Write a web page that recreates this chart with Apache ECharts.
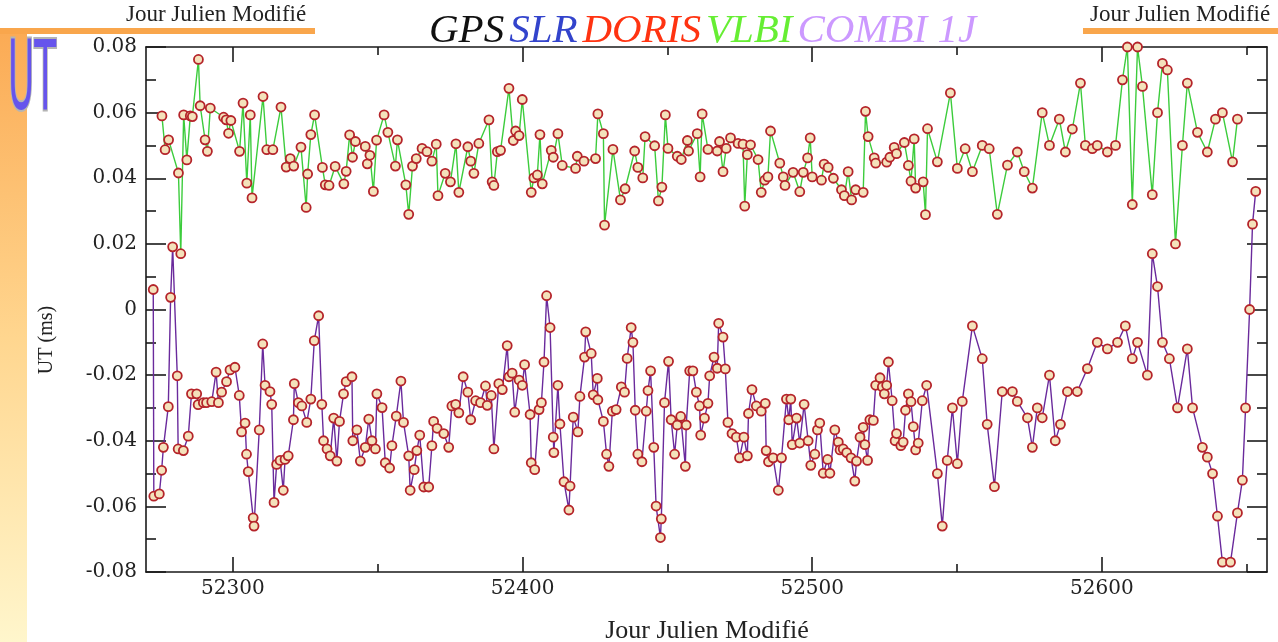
<!DOCTYPE html>
<html><head><meta charset="utf-8">
<script src="https://cdn.jsdelivr.net/npm/echarts@6/dist/echarts.min.js"></script>
<style>html,body{margin:0;padding:0;background:#fff}#c{width:1278px;height:642px}</style>
</head><body><div id="c"></div>
<script>
const xTickLabels = [52300, 52400, 52500, 52600];
const xMinorTicks = [52350, 52450, 52550, 52650];

const greenDays = [52275.5,52276.6,52277.8,52281.2,52282.0,52283.0,52284.1,52285.3,52286.0,52288.1,52288.7,52290.4,52291.2,52292.2,52296.8,52297.7,52298.5,52299.3,52302.3,52303.5,52304.8,52306.0,52306.6,52310.4,52311.7,52313.8,52316.6,52318.4,52319.8,52321.0,52323.5,52325.3,52325.8,52326.9,52328.2,52330.9,52331.9,52333.2,52335.3,52338.3,52339.1,52340.3,52341.3,52342.3,52345.7,52346.4,52347.3,52348.5,52349.6,52352.2,52353.5,52356.1,52356.8,52359.7,52360.7,52362.0,52363.3,52365.3,52367.0,52368.7,52370.2,52370.8,52373.3,52375.1,52377.0,52378.0,52381.1,52382.1,52383.2,52384.9,52388.4,52389.5,52390.1,52391.3,52392.4,52395.3,52396.8,52397.6,52398.8,52399.9,52403.0,52403.9,52405.1,52406.0,52406.8,52409.9,52410.6,52412.2,52413.7,52418.3,52418.9,52421.2,52425.2,52426.0,52427.9,52428.3,52431.2,52433.8,52435.4,52438.7,52439.8,52441.5,52442.3,52445.6,52446.9,52448.1,52449.3,52450.2,52453.4,52454.8,52456.9,52457.3,52460.3,52461.3,52462.0,52464.0,52467.2,52468.0,52469.2,52470.3,52471.8,52474.4,52476.1,52476.7,52477.6,52478.7,52481.3,52482.4,52483.6,52484.7,52485.6,52488.8,52490.0,52490.6,52493.4,52495.7,52496.9,52498.4,52499.3,52500.0,52503.2,52504.1,52505.5,52507.3,52510.1,52511.1,52512.4,52513.6,52515.0,52517.6,52518.4,52519.3,52521.4,52521.9,52525.7,52526.8,52528.3,52529.1,52531.8,52533.2,52534.1,52535.2,52535.7,52538.3,52539.1,52539.8,52543.2,52547.7,52550.1,52552.8,52555.3,52558.7,52561.1,52563.9,52567.4,52570.8,52573.2,52576.0,52579.4,52581.9,52585.3,52587.4,52589.8,52592.6,52594.3,52596.7,52598.4,52601.9,52604.7,52607.1,52608.8,52610.5,52612.3,52614.0,52617.4,52619.2,52620.9,52622.6,52625.4,52627.8,52629.5,52633.0,52636.4,52639.2,52641.6,52645.1,52646.8];
const greenUT = [0.059,0.0487,0.0517,0.0416,0.017,0.0593,0.0456,0.059,0.0588,0.0762,0.0621,0.0517,0.0482,0.0614,0.0586,0.0578,0.0537,0.0576,0.0482,0.0629,0.0385,0.0593,0.034,0.0649,0.0487,0.0487,0.0617,0.0434,0.046,0.0437,0.0495,0.0311,0.0413,0.0533,0.0593,0.0433,0.038,0.0378,0.0436,0.0383,0.0421,0.0532,0.0464,0.0512,0.0497,0.0444,0.047,0.036,0.0516,0.0593,0.054,0.0437,0.0517,0.038,0.029,0.0437,0.046,0.0491,0.0481,0.0452,0.0504,0.0347,0.0415,0.0389,0.0505,0.0357,0.0496,0.0452,0.0415,0.0506,0.0578,0.0389,0.0378,0.0481,0.0485,0.0674,0.0515,0.0544,0.053,0.064,0.0357,0.0401,0.041,0.0533,0.0383,0.0485,0.0464,0.0536,0.0439,0.043,0.0467,0.0452,0.046,0.0596,0.0536,0.0257,0.0488,0.0334,0.0368,0.0483,0.0433,0.0401,0.0527,0.0499,0.0331,0.0373,0.0593,0.0491,0.0467,0.0457,0.0515,0.0483,0.0536,0.0404,0.0596,0.0488,0.0483,0.0512,0.042,0.0491,0.0523,0.0506,0.0504,0.0315,0.0472,0.0502,0.0457,0.0357,0.0394,0.0404,0.0544,0.0446,0.0404,0.0378,0.0418,0.0359,0.0418,0.0462,0.0523,0.0404,0.0394,0.0443,0.0433,0.04,0.0365,0.0347,0.042,0.0334,0.0365,0.0357,0.0604,0.0527,0.0462,0.0446,0.0449,0.0464,0.0494,0.0475,0.0509,0.0439,0.0391,0.052,0.037,0.0389,0.0289,0.0551,0.045,0.066,0.043,0.049,0.042,0.05,0.049,0.029,0.044,0.048,0.042,0.037,0.06,0.05,0.058,0.048,0.055,0.069,0.05,0.049,0.05,0.048,0.05,0.07,0.08,0.032,0.08,0.068,0.035,0.06,0.075,0.073,0.02,0.05,0.069,0.054,0.048,0.058,0.06,0.045,0.058];

const purpleDays = [52272.5,52272.7,52274.6,52275.4,52276.0,52277.7,52278.5,52279.2,52280.8,52281.1,52282.9,52284.6,52285.7,52287.5,52288.0,52289.8,52290.9,52292.7,52294.2,52295.0,52296.1,52297.8,52299.0,52300.7,52302.2,52303.0,52304.2,52304.7,52305.3,52307.0,52307.3,52309.1,52310.3,52311.1,52312.8,52313.4,52314.2,52315.1,52316.3,52317.4,52318.0,52319.1,52320.9,52321.2,52322.6,52323.8,52325.5,52326.9,52328.1,52329.6,52330.7,52331.3,52332.5,52333.6,52334.8,52335.9,52336.8,52338.2,52339.1,52341.1,52341.4,52342.8,52344.0,52345.7,52346.9,52348.0,52349.2,52349.7,52351.5,52352.6,52354.1,52354.9,52356.4,52358.0,52358.9,52360.7,52361.2,52362.6,52363.5,52364.5,52365.9,52367.6,52368.7,52369.3,52370.5,52372.8,52374.5,52375.6,52376.9,52378.0,52379.5,52381.1,52382.1,52383.8,52385.5,52387.2,52387.8,52389.2,52390.1,52391.8,52393.0,52394.7,52395.3,52396.4,52397.3,52398.8,52399.9,52400.7,52402.6,52403.0,52404.2,52405.7,52406.5,52407.4,52408.3,52409.5,52410.6,52410.8,52412.2,52412.9,52414.3,52416.0,52416.4,52417.5,52419.1,52419.8,52421.4,52421.8,52423.7,52424.4,52425.8,52426.0,52427.9,52429.0,52429.8,52431.0,52432.3,52434.1,52435.2,52436.1,52437.5,52438.1,52438.9,52439.8,52441.2,52442.7,52443.3,52444.2,52445.3,52446.1,52447.6,52447.9,52449.0,52450.4,52451.3,52452.5,52453.4,52454.6,52456.2,52456.5,52457.7,52458.8,52460.0,52461.1,52461.5,52462.8,52464.0,52464.6,52466.1,52467.2,52467.7,52469.2,52470.0,52470.9,52472.3,52473.8,52474.9,52476.4,52477.6,52478.0,52479.2,52480.7,52482.4,52483.8,52484.1,52484.9,52486.5,52488.3,52489.4,52491.1,52491.9,52492.6,52493.1,52494.6,52495.7,52497.2,52498.6,52499.5,52500.9,52501.8,52502.6,52503.8,52505.3,52506.1,52507.8,52509.0,52509.6,52510.7,52511.9,52513.4,52514.7,52515.3,52516.5,52517.6,52518.2,52519.1,52519.9,52521.1,52521.9,52523.4,52524.2,52524.9,52525.7,52526.3,52527.6,52528.6,52529.1,52530.6,52531.4,52532.2,52533.2,52534.1,52534.9,52535.7,52536.6,52538.0,52539.5,52543.2,52544.9,52546.6,52548.4,52550.1,52551.8,52555.3,52558.7,52560.4,52562.9,52565.6,52569.1,52570.8,52574.3,52576.0,52577.7,52579.4,52581.9,52583.9,52585.7,52588.1,52591.5,52595.0,52598.4,52601.9,52605.4,52608.1,52610.5,52612.3,52615.7,52617.4,52619.2,52620.9,52623.3,52626.1,52629.5,52631.3,52634.7,52636.4,52638.2,52639.9,52641.6,52644.4,52646.8,52648.5,52649.6,52651.0,52652.0,52653.1];
const purpleUT = [0.0061,-0.0569,-0.0562,-0.049,-0.042,-0.0296,0.0037,0.0191,-0.0202,-0.0425,-0.043,-0.0386,-0.0257,-0.0257,-0.029,-0.0284,-0.0284,-0.0281,-0.0191,-0.0284,-0.0252,-0.022,-0.0184,-0.0176,-0.0262,-0.0373,-0.0346,-0.0441,-0.0494,-0.0635,-0.066,-0.0367,-0.0105,-0.0231,-0.025,-0.0289,-0.0588,-0.0472,-0.046,-0.0551,-0.0457,-0.0446,-0.0336,-0.0226,-0.0284,-0.0294,-0.0344,-0.0273,-0.0095,-0.0019,-0.0289,-0.04,-0.0425,-0.0446,-0.0331,-0.0462,-0.0341,-0.0257,-0.022,-0.0205,-0.04,-0.0367,-0.0462,-0.042,-0.0334,-0.04,-0.0425,-0.0257,-0.0299,-0.0467,-0.0483,-0.0415,-0.0325,-0.0218,-0.0344,-0.0446,-0.0551,-0.0488,-0.043,-0.0383,-0.0541,-0.0541,-0.0415,-0.0341,-0.0362,-0.0378,-0.042,-0.0294,-0.0289,-0.0315,-0.0205,-0.0252,-0.0336,-0.0278,-0.0284,-0.0233,-0.0292,-0.0262,-0.0425,-0.0226,-0.0244,-0.011,-0.0205,-0.0194,-0.0313,-0.0215,-0.0231,-0.0168,-0.032,-0.0467,-0.0488,-0.0305,-0.0284,-0.016,0.0042,-0.0055,-0.0389,-0.0436,-0.0231,-0.0349,-0.0525,-0.0611,-0.0538,-0.0328,-0.0373,-0.0265,-0.0145,-0.0068,-0.0134,-0.026,-0.021,-0.0275,-0.0341,-0.0441,-0.0478,-0.031,-0.0305,-0.0236,-0.0252,-0.0149,-0.0055,-0.01,-0.0307,-0.0441,-0.0464,-0.031,-0.0247,-0.0187,-0.042,-0.0599,-0.0695,-0.0638,-0.0284,-0.0158,-0.0336,-0.0441,-0.0352,-0.0326,-0.0478,-0.0352,-0.0187,-0.0187,-0.0252,-0.0294,-0.0383,-0.0331,-0.0286,-0.0202,-0.0145,-0.0179,-0.0042,-0.0084,-0.0181,-0.0344,-0.0378,-0.0389,-0.0452,-0.0389,-0.0446,-0.0317,-0.0244,-0.0294,-0.031,-0.0286,-0.043,-0.0464,-0.0452,-0.0551,-0.0452,-0.0273,-0.0336,-0.0273,-0.0412,-0.0331,-0.0407,-0.0289,-0.04,-0.0475,-0.0441,-0.0367,-0.0346,-0.0499,-0.0457,-0.0499,-0.0367,-0.0404,-0.0428,-0.0425,-0.0436,-0.0452,-0.0523,-0.0462,-0.0389,-0.0359,-0.0412,-0.046,-0.0336,-0.0338,-0.0231,-0.0208,-0.0236,-0.0257,-0.0231,-0.016,-0.0278,-0.04,-0.0378,-0.0415,-0.0404,-0.0307,-0.0257,-0.0281,-0.0357,-0.0428,-0.0407,-0.0278,-0.0231,-0.05,-0.066,-0.046,-0.03,-0.047,-0.028,-0.005,-0.015,-0.035,-0.054,-0.025,-0.025,-0.028,-0.033,-0.042,-0.03,-0.033,-0.02,-0.04,-0.035,-0.025,-0.025,-0.018,-0.01,-0.012,-0.01,-0.005,-0.015,-0.01,-0.02,0.017,0.007,-0.01,-0.015,-0.03,-0.012,-0.03,-0.042,-0.045,-0.05,-0.063,-0.077,-0.077,-0.062,-0.052,-0.03,0.0,0.026,0.036];

const pair = (xs, ys) => xs.map((x, i) => [x, ys[i]]);
const serif = "'Liberation Serif', 'DejaVu Serif', serif";
const labelFont = "'DejaVu Serif', serif";
const chart = echarts.init(document.getElementById('c'), null, {renderer: 'canvas'});

const tickFmt = v => (Math.abs(v) < 1e-9 ? '0' : v.toFixed(2));
const markerStyle = {color: '#f4e2bb', borderColor: '#b5242a', borderWidth: 1.8};

function xAx(position, values, len, showLine, showLabel) {
  return {
    type: 'value', position: position, min: 52270, max: 52657,
    axisLine: {show: showLine, onZero: false, lineStyle: {color: '#1a1a1a', width: 1.6}},
    axisTick: {show: true, inside: true, length: len, customValues: values, lineStyle: {color: '#1a1a1a', width: 1.6}},
    axisLabel: showLabel ? {show: true, customValues: values, formatter: v => String(Math.round(v)), color: '#222', fontFamily: labelFont, fontSize: 20, margin: 7} : {show: false},
    splitLine: {show: false}
  };
}
function yAx(position, showLabel) {
  return {
    type: 'value', position: position, min: -0.08, max: 0.08, interval: 0.02,
    axisLine: {show: true, onZero: false, lineStyle: {color: '#1a1a1a', width: 1.6}},
    axisTick: {show: true, inside: true, length: 20, lineStyle: {color: '#1a1a1a', width: 1.6}},
    minorTick: {show: true, splitNumber: 2, length: 10, lineStyle: {color: '#1a1a1a', width: 1.6}},
    axisLabel: showLabel ? {show: true, formatter: tickFmt, color: '#222', fontFamily: labelFont, fontSize: 20, margin: 9} : {show: false},
    splitLine: {show: false}
  };
}
const tItem = c => ({color: c, fontFamily: serif, fontStyle: 'italic', fontWeight: 'normal', fontSize: 41});

chart.setOption({
  animation: false,
  backgroundColor: '#ffffff',
  grid: {left: 146, right: 11, top: 47, bottom: 70, containLabel: false},
  xAxis: [
    xAx('bottom', xTickLabels, 15, true, true),
    xAx('bottom', xMinorTicks, 8, false, false),
    xAx('top', xTickLabels, 15, true, false),
    xAx('top', xMinorTicks, 8, false, false)
  ],
  yAxis: [yAx('left', true), yAx('right', false)],
  title: {
    text: '{k|GPS} {b|SLR} {r|DORIS} {g|VLBI} {p|COMBI 1J}',
    left: 424, top: 6,
    textStyle: {fontWeight: 'normal', rich: {k: tItem('#111111'), b: tItem('#3344cc'), r: tItem('#ff3311'), g: tItem('#66ee33'), p: tItem('#cc99ff')}}
  },
  graphic: [
    {type: 'rect', left: 0, top: 28, shape: {width: 315, height: 6}, style: {fill: '#f9a64c'}, silent: true},
    {type: 'rect', left: 1083, top: 28, shape: {width: 195, height: 6}, style: {fill: '#f9a64c'}, silent: true},
    {type: 'rect', left: 0, top: 34, shape: {width: 27, height: 608}, silent: true,
      style: {fill: new echarts.graphic.LinearGradient(0, 0, 0, 1, [{offset: 0, color: '#fbab55'}, {offset: 0.5, color: '#ffd68f'}, {offset: 1, color: '#fff6cc'}])}},
    {type: 'text', left: 126, top: 3, silent: true, style: {text: 'Jour Julien Modifié', font: "23px 'Liberation Serif'", fill: '#222'}},
    {type: 'text', left: 1090, top: 3, silent: true, style: {text: 'Jour Julien Modifié', font: "23px 'Liberation Serif'", fill: '#222'}},
    {type: 'text', x: 8, y: 35, scaleX: 0.37, silent: true,
      style: {text: 'UT', font: "97px 'DejaVu Sans'", fill: '#6654ec', stroke: '#b4b4b4', lineWidth: 4}},
    {type: 'text', x: 47, y: 340, rotation: Math.PI / 2, silent: true,
      style: {text: 'UT (ms)', font: "20px 'Liberation Serif'", fill: '#222', align: 'center', verticalAlign: 'middle'}},
    {type: 'text', x: 707, y: 631, silent: true,
      style: {text: 'Jour Julien Modifié', font: "26px 'Liberation Serif'", fill: '#222', align: 'center', verticalAlign: 'middle'}}
  ],
  series: [
    {type: 'line', name: 'VLBI', xAxisIndex: 0, yAxisIndex: 0, data: pair(greenDays, greenUT),
      lineStyle: {color: '#3ccc3c', width: 1.4}, symbol: 'circle', symbolSize: 9, itemStyle: markerStyle, clip: true},
    {type: 'line', name: 'COMBI', xAxisIndex: 0, yAxisIndex: 0, data: pair(purpleDays, purpleUT),
      lineStyle: {color: '#6a2a9c', width: 1.4}, symbol: 'circle', symbolSize: 9, itemStyle: markerStyle, clip: true}
  ]
});
</script>
</body></html>
